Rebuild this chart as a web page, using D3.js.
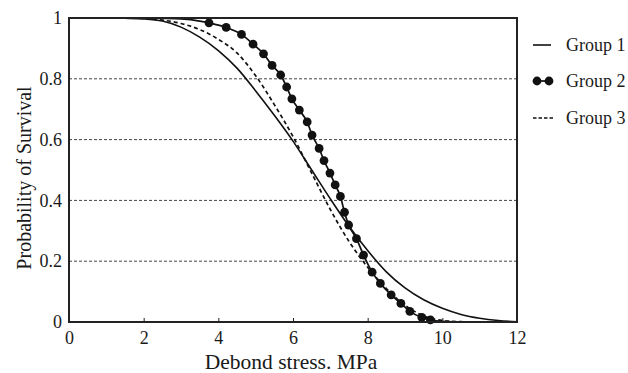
<!DOCTYPE html>
<html>
<head>
<meta charset="utf-8">
<script src="https://cdn.jsdelivr.net/npm/d3@7"></script>
<style>
  body { margin: 0; background: #fff; }
  svg { font-family: "Liberation Serif", "DejaVu Serif", serif; }
  .grid line { stroke: #444; stroke-width: 1; stroke-dasharray: 3,2; }
</style>
</head>
<body>
<svg class="chart"></svg>
<script>
// stress values (MPa) for the smooth curves
var stress = [0,0.5,1,1.5,2,2.5,3,3.5,4,4.5,5,5.5,6,6.5,7,7.5,8,8.5,9,9.5,10,10.5,11,11.5,12];
var group1 = [1,1,1,0.999,0.997,0.99,0.97,0.937,0.893,0.835,0.76,0.68,0.595,0.5,0.405,0.315,0.235,0.165,0.112,0.073,0.045,0.025,0.0125,0.005,0.001];
var group3 = [1,1,1,1,0.999,0.993,0.982,0.962,0.93,0.885,0.81,0.715,0.61,0.49,0.37,0.265,0.18,0.11,0.055,0.02,0.005,0.001,0,0,0];

// group 2: marker points plus the line ends
var g2MarkX = [3.75,4.21,4.62,4.93,5.21,5.44,5.67,5.83,5.97,6.17,6.38,6.51,6.70,6.83,6.99,7.13,7.27,7.38,7.49,7.70,7.89,8.12,8.34,8.63,8.89,9.13,9.45,9.68];
var g2MarkY = [0.984,0.969,0.946,0.914,0.882,0.844,0.8125,0.773,0.734,0.697,0.658,0.615,0.571,0.531,0.490,0.451,0.413,0.361,0.319,0.274,0.220,0.164,0.127,0.089,0.061,0.035,0.015,0.007];
var g2HeadX = [0,1,2,2.5,3,3.5];
var g2HeadY = [1,1,1,0.999,0.997,0.99];
var g2TailX = [10,10.5];
var g2TailY = [0.002,0];

var xTicks = [0,2,4,6,8,10,12];
var yTicks = [0,0.2,0.4,0.6,0.8,1];
var yTickLabels = ["0","0.2","0.4","0.6","0.8","1"];
var gridValues = [0.2,0.4,0.6,0.8];
var legendNames = ["Group 1","Group 2","Group 3"];

var width = 628, height = 373;
var margin = {top: 18, right: 111, bottom: 51, left: 69};

var svg = d3.select(".chart")
    .attr("width", width)
    .attr("height", height);

var xScale = d3.scaleLinear().domain([0,12]).range([margin.left, width - margin.right]);
var yScale = d3.scaleLinear().domain([0,1]).range([height - margin.bottom, margin.top]);

// dotted gridlines
svg.append("g")
    .attr("class", "grid")
  .selectAll("line")
  .data(gridValues)
  .enter().append("line")
    .attr("x1", xScale(0)).attr("x2", xScale(12))
    .attr("y1", function(d){ return yScale(d); })
    .attr("y2", function(d){ return yScale(d); });

var line = d3.line()
    .curve(d3.curveMonotoneX)
    .x(function(d){ return xScale(d[0]); })
    .y(function(d){ return yScale(d[1]); });

var g1Data = stress.map(function(s, i){ return [s, group1[i]]; });
var g3Data = stress.map(function(s, i){ return [s, group3[i]]; });
var g2Marks = g2MarkX.map(function(s, i){ return [s, g2MarkY[i]]; });
var g2Data = g2HeadX.map(function(s, i){ return [s, g2HeadY[i]]; })
    .concat(g2Marks)
    .concat(g2TailX.map(function(s, i){ return [s, g2TailY[i]]; }));

svg.append("path")
    .attr("d", line(g1Data))
    .attr("fill", "none").attr("stroke", "#111").attr("stroke-width", 1.6);

svg.append("path")
    .attr("d", line(g3Data))
    .attr("fill", "none").attr("stroke", "#111").attr("stroke-width", 1.7)
    .attr("stroke-dasharray", "4,3");

svg.append("path")
    .attr("d", line(g2Data))
    .attr("fill", "none").attr("stroke", "#111").attr("stroke-width", 1.7);

svg.append("g").selectAll("circle")
    .data(g2Marks)
    .enter().append("circle")
    .attr("cx", function(d){ return xScale(d[0]); })
    .attr("cy", function(d){ return yScale(d[1]); })
    .attr("r", 4.4)
    .attr("fill", "#111");

// axes
var xAxis = svg.append("g")
    .attr("transform", "translate(0," + yScale(0) + ")")
    .call(d3.axisBottom(xScale).tickValues(xTicks).tickSize(-4).tickPadding(9).tickFormat(d3.format("d")));
xAxis.select(".domain").remove();
xAxis.selectAll("text").attr("font-size", 18).attr("fill", "#1a1a1a");
xAxis.selectAll("line").attr("stroke", "#222");

var yAxis = svg.append("g")
    .attr("transform", "translate(" + xScale(0) + ",0)")
    .call(d3.axisLeft(yScale).tickValues(yTicks).tickSize(0).tickPadding(7)
      .tickFormat(function(d, i){ return yTickLabels[i]; }));
yAxis.select(".domain").remove();
yAxis.selectAll("text").attr("font-size", 18).attr("fill", "#1a1a1a");

svg.selectAll(".tick text").attr("font-family", "Liberation Serif, serif");

// frame
svg.append("rect")
    .attr("x", xScale(0)).attr("y", yScale(1))
    .attr("width", xScale(12) - xScale(0))
    .attr("height", yScale(0) - yScale(1))
    .attr("fill", "none").attr("stroke", "#222").attr("stroke-width", 2);

// axis titles
svg.append("text")
    .attr("x", 291)
    .attr("y", 369)
    .attr("text-anchor", "middle")
    .attr("font-size", 21.5)
    .attr("fill", "#1a1a1a")
    .text("Debond stress. MPa");

svg.append("text")
    .attr("transform", "translate(31," + 178 + ") rotate(-90)")
    .attr("text-anchor", "middle")
    .attr("font-size", 20)
    .attr("fill", "#1a1a1a")
    .text("Probability of Survival");

// legend
var legY = [45, 81, 118];
var leg = svg.append("g");
leg.append("line").attr("x1", 533).attr("x2", 551).attr("y1", legY[0]).attr("y2", legY[0])
    .attr("stroke", "#111").attr("stroke-width", 1.6);
leg.append("line").attr("x1", 537).attr("x2", 549).attr("y1", legY[1]).attr("y2", legY[1])
    .attr("stroke", "#111").attr("stroke-width", 1.7);
leg.selectAll("circle.lg").data([537, 549]).enter().append("circle")
    .attr("cx", function(d){ return d; }).attr("cy", legY[1]).attr("r", 4.4).attr("fill", "#111");
leg.append("line").attr("x1", 533).attr("x2", 553).attr("y1", legY[2]).attr("y2", legY[2])
    .attr("stroke", "#111").attr("stroke-width", 1.6).attr("stroke-dasharray", "3.5,2");
leg.selectAll("text").data(legendNames).enter().append("text")
    .attr("x", 566)
    .attr("y", function(d, i){ return legY[i]; })
    .attr("dy", "0.35em")
    .attr("font-size", 18)
    .attr("fill", "#1a1a1a")
    .text(function(d){ return d; });
</script>
</body>
</html>
